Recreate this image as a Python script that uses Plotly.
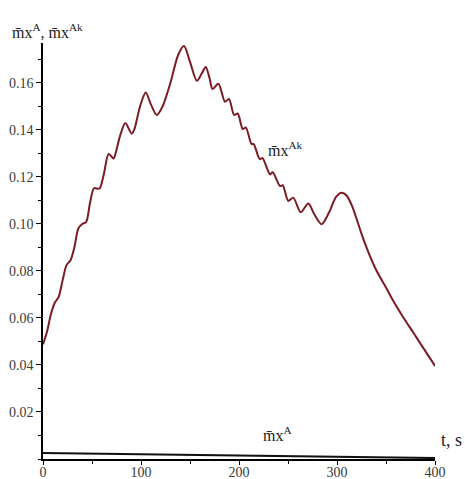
import plotly.graph_objects as go

# m_x^Ak (red) curve values
t_ak = [0, 4, 8, 12, 16, 20, 24, 28, 32, 36, 40, 44, 48, 52, 56, 58, 62, 67, 72, 74, 79, 84,
        90.5, 93, 99, 104.8, 110, 116, 122, 130, 138, 143.9, 150, 157, 162, 166, 170, 173,
        179, 185.7, 189.8, 195, 198.7, 203.8, 207, 212.8, 215, 221, 224, 231.6, 234.4,
        241.8, 244.6, 250.3, 255.4, 263, 270.7, 277, 284.4, 292, 299, 304.8, 310, 316,
        325.2, 333, 340.5, 350, 357.5, 368, 378, 390, 400]
m_ak = [0.0488, 0.054, 0.0615, 0.0665, 0.069, 0.076, 0.0825, 0.0845, 0.090, 0.098, 0.1000,
        0.1008, 0.109, 0.1152, 0.115, 0.1152, 0.121, 0.1298, 0.1278, 0.130, 0.138, 0.143,
        0.1384, 0.140, 0.150, 0.1559, 0.151, 0.1464, 0.150, 0.160, 0.172, 0.1757, 0.169,
        0.1609, 0.164, 0.1668, 0.162, 0.1574, 0.1597, 0.152, 0.1532, 0.1464, 0.147, 0.1404,
        0.141, 0.134, 0.134, 0.1277, 0.128, 0.1211, 0.122, 0.1162, 0.1165, 0.1098, 0.1112,
        0.105, 0.1087, 0.104, 0.0999, 0.105, 0.1115, 0.1133, 0.112, 0.107, 0.0956, 0.087,
        0.080, 0.073, 0.0672, 0.060, 0.0537, 0.046, 0.0396]

# m_x^A (black) curve
t_a = [0, 100, 200, 300, 400]
m_a = [0.0026, 0.0020, 0.0014, 0.0009, 0.0004]

x_ticks = [0, 100, 200, 300, 400]
y_ticks = [0.02, 0.04, 0.06, 0.08, 0.10, 0.12, 0.14, 0.16]
y_ticktext = ["0.02", "0.04", "0.06", "0.08", "0.10", "0.12", "0.14", "0.16"]

SERIF = "Liberation Serif, Times New Roman, serif"
MX = "m\u0304x"

fig = go.Figure()
fig.add_trace(go.Scatter(x=t_ak, y=m_ak, mode="lines",
                         line=dict(color="#7b1c24", width=2, shape="spline", smoothing=0.8),
                         showlegend=False, hoverinfo="skip"))
fig.add_trace(go.Scatter(x=t_a, y=m_a, mode="lines",
                         line=dict(color="#111111", width=2),
                         showlegend=False, hoverinfo="skip"))

fig.update_layout(
    width=465, height=479,
    margin=dict(l=43, r=30, t=43, b=20, autoexpand=False),
    paper_bgcolor="white", plot_bgcolor="white",
    font=dict(family=SERIF, size=14, color="#3a3a3a"),
    xaxis=dict(range=[0, 400], tickmode="array", tickvals=x_ticks, automargin=False,
               showgrid=False, zeroline=False, showline=True, linecolor="black", linewidth=1.5,
               ticks="outside", ticklen=4, tickcolor="black", tickwidth=1,
               ticklabelstandoff=-5,
               minor=dict(tickmode="linear", tick0=0, dtick=50, ticks="outside", ticklen=3,
                          tickcolor="black", showgrid=False),
               tickfont=dict(family=SERIF, size=14, color="#3a3a3a")),
    yaxis=dict(range=[0, 0.177], tickmode="array", tickvals=y_ticks, ticktext=y_ticktext,
               automargin=False,
               showgrid=False, zeroline=False, showline=True, linecolor="black", linewidth=1.5,
               ticks="outside", ticklen=5, tickcolor="black", tickwidth=1,
               minor=dict(tickmode="linear", tick0=0, dtick=0.01, ticks="outside", ticklen=3,
                          tickcolor="black", showgrid=False),
               tickfont=dict(family=SERIF, size=14, color="#3a3a3a")),
)

fig.add_annotation(xref="paper", yref="paper", x=-0.085, y=1.0, xanchor="left", yanchor="bottom",
                   text=MX + "<sup>A</sup>, " + MX + "<sup>Ak</sup>", showarrow=False,
                   font=dict(family=SERIF, size=16, color="#222222"))
fig.add_annotation(xref="x", yref="y", x=228, y=0.127, xanchor="left", yanchor="bottom",
                   text=MX + "<sup>Ak</sup>", showarrow=False,
                   font=dict(family=SERIF, size=16, color="#222222"))
fig.add_annotation(xref="x", yref="y", x=222, y=0.0054, xanchor="left", yanchor="bottom",
                   text=MX + "<sup>A</sup>", showarrow=False,
                   font=dict(family=SERIF, size=16, color="#222222"))
fig.add_annotation(xref="paper", yref="paper", x=1.01, y=0.017, xanchor="left", yanchor="bottom",
                   text="t, s", showarrow=False,
                   font=dict(family=SERIF, size=18, color="#222222"))

fig.write_html("out.html", config={"displayModeBar": False},
               post_script="document.body.style.margin='0';document.body.style.padding='0';")
